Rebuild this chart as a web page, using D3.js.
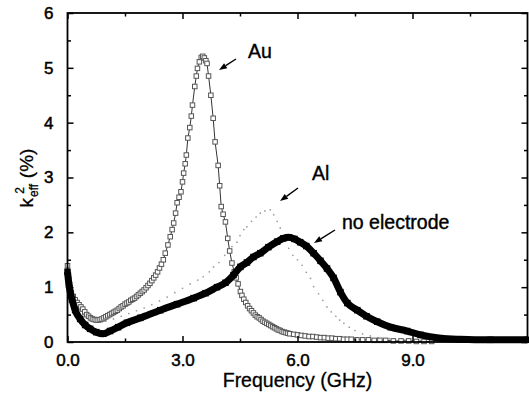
<!DOCTYPE html>
<html><head><meta charset="utf-8">
<script src="https://cdn.jsdelivr.net/npm/d3@7/dist/d3.min.js"></script>
<style>
body{margin:0;background:#fff;}
svg{display:block;}
text{font-family:"Liberation Sans",Arial,sans-serif;fill:#000;}
</style></head>
<body>
<svg id="chart" width="529" height="399"></svg>
<script>
// ---- data: [frequency (GHz), k_eff^2 (%)] ----
const auData = [
[0.00,1.39],[0.03,1.15],[0.06,1.00],[0.10,0.90],[0.15,0.83],[0.20,0.77],[0.25,0.72],[0.30,0.68],[0.35,0.64],[0.40,0.60],
[0.45,0.55],[0.50,0.50],[0.55,0.47],[0.60,0.44],[0.65,0.42],[0.70,0.41],[0.75,0.40],[0.80,0.40],[0.85,0.41],[0.90,0.42],
[0.95,0.44],[1.00,0.46],[1.05,0.48],[1.10,0.50],[1.15,0.52],[1.20,0.54],[1.25,0.56],[1.30,0.58],[1.35,0.61],[1.40,0.64],
[1.45,0.66],[1.50,0.69],[1.55,0.71],[1.60,0.73],[1.65,0.76],[1.70,0.78],[1.75,0.80],[1.80,0.83],[1.85,0.86],[1.90,0.89],
[1.95,0.92],[2.00,0.95],[2.05,0.99],[2.10,1.03],[2.15,1.07],[2.20,1.12],[2.25,1.17],[2.30,1.22],[2.35,1.28],[2.40,1.35],
[2.45,1.42],[2.50,1.50],[2.55,1.62],[2.62,1.77],[2.68,1.92],[2.73,2.05],[2.77,2.17],[2.82,2.35],[2.86,2.54],[2.91,2.64],
[2.96,2.74],[3.00,2.92],[3.03,3.08],[3.07,3.25],[3.10,3.41],[3.14,3.72],[3.19,3.91],[3.23,4.12],[3.26,4.32],[3.32,4.66],
[3.36,4.85],[3.39,4.99],[3.44,5.11],[3.49,5.19],[3.53,5.21],[3.57,5.18],[3.61,5.13],[3.64,5.08],[3.68,4.85],[3.74,4.50],
[3.80,4.08],[3.85,3.65],[3.93,3.22],[3.97,2.85],[4.01,2.47],[4.06,2.33],[4.12,2.19],[4.18,1.89],[4.23,1.66],[4.29,1.44],
[4.35,1.28],[4.40,1.17],[4.45,1.06],[4.51,0.92],[4.55,0.85],[4.60,0.78],[4.65,0.72],[4.70,0.66],[4.75,0.61],[4.80,0.57],
[4.85,0.53],[4.90,0.49],[4.95,0.46],[5.00,0.44],[5.05,0.41],[5.10,0.38],[5.15,0.36],[5.20,0.34],[5.25,0.32],[5.30,0.30],
[5.35,0.28],[5.40,0.26],[5.45,0.24],[5.50,0.22],[5.55,0.21],[5.60,0.19],[5.65,0.18],[5.70,0.17],[5.75,0.16],[5.80,0.15],
[5.90,0.14],[6.00,0.13],[6.10,0.12],[6.20,0.11],[6.30,0.10],[6.40,0.10],[6.50,0.09],[6.60,0.08],[6.70,0.08],[6.80,0.07],
[6.90,0.07],[7.00,0.06],[7.10,0.06],[7.20,0.05],[7.30,0.05],[7.40,0.05],[7.55,0.04],[7.70,0.04],[7.85,0.04],[8.00,0.03],
[8.15,0.03],[8.30,0.03],[8.50,0.02],[8.70,0.02],[8.90,0.02],[9.10,0.01],[9.30,0.01],[9.50,0.01]
];

const alData = [
[0.00,1.35],[0.05,1.05],[0.10,0.85],[0.20,0.70],[0.30,0.58],[0.40,0.50],[0.50,0.44],[0.60,0.40],[0.70,0.37],[0.80,0.36],
[0.90,0.37],[1.00,0.38],[1.20,0.42],[1.40,0.47],[1.60,0.52],[1.80,0.57],[2.00,0.62],[2.20,0.68],[2.40,0.75],[2.60,0.82],
[2.80,0.90],[3.00,0.98],[3.20,1.06],[3.40,1.13],[3.54,1.19],[3.70,1.28],[3.81,1.37],[3.95,1.45],[4.10,1.58],[4.20,1.68],
[4.29,1.74],[4.42,1.82],[4.50,1.94],[4.60,2.05],[4.68,2.10],[4.80,2.20],[4.92,2.28],[5.03,2.35],[5.15,2.39],[5.29,2.41],
[5.38,2.32],[5.47,2.20],[5.55,2.08],[5.64,1.93],[5.77,1.71],[5.88,1.58],[6.00,1.50],[6.12,1.40],[6.23,1.27],[6.34,1.16],
[6.42,1.01],[6.55,0.88],[6.66,0.76],[6.77,0.64],[6.88,0.55],[7.00,0.47],[7.10,0.40],[7.21,0.34],[7.35,0.27],[7.50,0.21],
[7.70,0.15],[7.90,0.11],[8.10,0.08],[8.40,0.06],[8.80,0.04],[9.20,0.03]
];

const noData = [
[0.00,1.28],[0.04,1.04],[0.12,0.77],[0.20,0.58],[0.33,0.42],[0.46,0.31],[0.59,0.24],[0.75,0.18],[0.93,0.15],[1.11,0.20],
[1.32,0.27],[1.55,0.35],[1.90,0.44],[2.42,0.58],[2.86,0.69],[3.29,0.80],[3.60,0.89],[3.90,1.00],[4.12,1.08],[4.33,1.22],
[4.51,1.37],[4.68,1.45],[4.85,1.55],[5.03,1.62],[5.24,1.73],[5.47,1.83],[5.63,1.89],[5.77,1.91],[5.92,1.88],[6.07,1.82],
[6.23,1.75],[6.42,1.62],[6.60,1.48],[6.77,1.34],[6.94,1.17],[7.12,0.91],[7.30,0.71],[7.56,0.58],[7.80,0.47],[8.08,0.37],
[8.43,0.27],[8.86,0.20],[9.21,0.13],[9.73,0.07],[10.25,0.05],[11.03,0.04],[12.00,0.04]
];

const xTicks = [0,3,6,9];
const xTickLabels = ["0.0","3.0","6.0","9.0"];
const xMinor = [1.5,4.5,7.5,10.5];
const yTicks = [0,1,2,3,4,5,6];
const yMinor = [0.5,1.5,2.5,3.5,4.5,5.5];

const labels = ["Au","Al","no electrode"];

// ---- drawing ----
const svg = d3.select("#chart");
const x = d3.scaleLinear().domain([0,12]).range([67.5,527.5]);
const y = d3.scaleLinear().domain([0,6]).range([342,13]);

const toObj = arr => arr.map(p=>({f:p[0],k:p[1]}));
const au = toObj(auData), al = toObj(alData), no = toObj(noData);
const line = d3.line().x(d=>x(d.f)).y(d=>y(d.k));

const plot = svg.append("g");
// Al: faint dots
plot.selectAll("circle.al").data(al).join("circle")
  .attr("cx",d=>x(d.f)).attr("cy",d=>y(d.k)).attr("r",0.85).attr("fill","#999");

// Au: thin line + open squares
plot.append("path").datum(au).attr("d",line).attr("fill","none").attr("stroke","#000").attr("stroke-width",0.8);
const sa = 4.5;
plot.selectAll("rect.au").data(au).join("rect")
  .attr("x",d=>x(d.f)-sa/2).attr("y",d=>y(d.k)-sa/2).attr("width",sa).attr("height",sa)
  .attr("fill","#fff").attr("stroke","#555").attr("stroke-width",1);

// no electrode: thick black line + filled squares
plot.append("path").datum(no).attr("d",d3.line().curve(d3.curveMonotoneX).x(d=>x(d.f)).y(d=>y(d.k))(no))
  .attr("fill","none").attr("stroke","#000").attr("stroke-width",7).attr("stroke-linejoin","round");
const sn = 6.5;
plot.selectAll("rect.no").data(no).join("rect")
  .attr("x",d=>x(d.f)-sn/2).attr("y",d=>y(d.k)-sn/2).attr("width",sn).attr("height",sn).attr("fill","#000");

// axes (ticks inward, mirrored)
const ax = svg.append("g");
const bottom = d3.axisBottom(x).tickValues(xTicks).tickSizeInner(-6).tickSizeOuter(0).tickFormat((d,i)=>xTickLabels[i]).tickPadding(12);
const gB = ax.append("g").attr("transform",`translate(0,${y(0)})`).call(bottom);
gB.selectAll("text").attr("font-size",17).attr("dy","0.71em");
ax.append("g").attr("transform",`translate(0,${y(0)})`).call(d3.axisBottom(x).tickValues(xMinor).tickSize(-3.5).tickFormat(""));
ax.append("g").attr("transform",`translate(0,${y(6)})`).call(d3.axisTop(x).tickValues(xTicks).tickSize(-6).tickFormat(""));
ax.append("g").attr("transform",`translate(0,${y(6)})`).call(d3.axisTop(x).tickValues(xMinor).tickSize(-3.5).tickFormat(""));

const left = d3.axisLeft(y).tickValues(yTicks).tickSizeInner(-6).tickSizeOuter(0).tickFormat(d3.format("d")).tickPadding(14);
const gL = ax.append("g").attr("transform",`translate(${x(0)},0)`).call(left);
gL.selectAll("text").attr("font-size",17);
ax.append("g").attr("transform",`translate(${x(0)},0)`).call(d3.axisLeft(y).tickValues(yMinor).tickSize(-3.5).tickFormat(""));
ax.append("g").attr("transform",`translate(${x(12)},0)`).call(d3.axisRight(y).tickValues(yTicks).tickSize(-6).tickFormat(""));
ax.append("g").attr("transform",`translate(${x(12)},0)`).call(d3.axisRight(y).tickValues(yMinor).tickSize(-3.5).tickFormat(""));
ax.selectAll(".domain").remove();
ax.selectAll("line").attr("stroke","#000").attr("stroke-width",1.5);
ax.selectAll("text").attr("font-family","'Liberation Sans',Arial,sans-serif").attr("fill","#000")
  .attr("stroke","#000").attr("stroke-width",0.5);

svg.append("rect").attr("x",x(0)).attr("y",y(6)).attr("width",x(12)-x(0)).attr("height",y(0)-y(6))
  .attr("fill","none").attr("stroke","#000").attr("stroke-width",1.8);

// axis titles
svg.append("text").attr("x",(x(0)+x(12))/2).attr("y",387).attr("text-anchor","middle").attr("font-size",19.5)
  .attr("stroke","#000").attr("stroke-width",0.3).text("Frequency (GHz)");
const yl = svg.append("text").attr("transform","translate(33,178) rotate(-90)").attr("text-anchor","middle")
  .attr("font-size",19).attr("stroke","#000").attr("stroke-width",0.3);
yl.append("tspan").text("k");
yl.append("tspan").attr("font-size",12).attr("dy",5).attr("dx",1).text("eff");
yl.append("tspan").attr("font-size",12).attr("dy",-14).attr("dx",-10).text("2");
yl.append("tspan").attr("dy",9).attr("dx",9).text("(%)");

// annotations: label positions and arrows (pixel placement of text callouts)
const callouts = [
  {tx:248, ty:58, x1:236, y1:59, x2:219, y2:70},
  {tx:312, ty:180, x1:298, y1:188, x2:280, y2:201},
  {tx:342, ty:229, x1:335, y1:230, x2:314, y2:243}
];
const an = svg.append("g");
callouts.forEach((a,i)=>{
  an.append("text").attr("x",a.tx).attr("y",a.ty).attr("font-size",19.5)
    .attr("stroke","#000").attr("stroke-width",0.4).text(labels[i]);
  const ang = Math.atan2(a.y2-a.y1,a.x2-a.x1);
  const L=8, W=3;
  const bx=a.x2-L*Math.cos(ang), by=a.y2-L*Math.sin(ang);
  an.append("line").attr("x1",a.x1).attr("y1",a.y1).attr("x2",bx).attr("y2",by).attr("stroke","#000").attr("stroke-width",1.4);
  const px=-Math.sin(ang)*W, py=Math.cos(ang)*W;
  an.append("path").attr("d",`M${a.x2},${a.y2}L${bx+px},${by+py}L${bx-px},${by-py}Z`).attr("fill","#000");
});
</script>
</body></html>
